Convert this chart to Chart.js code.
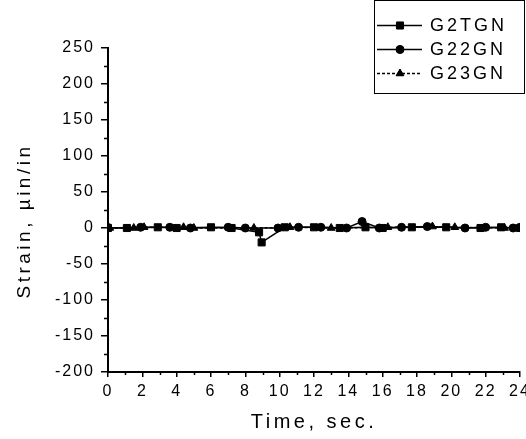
<!DOCTYPE html>
<html lang="en">
  <head>
    <meta charset="utf-8" />
    <title>Strain vs time</title>
    <style>
      html, body { margin: 0; padding: 0; background: #fff; }
      #chart { display: block; }
    </style>
  </head>
  <body>
    <canvas id="chart" width="526" height="439"></canvas>
    <script src="https://cdn.jsdelivr.net/npm/chart.js@4.4.1/dist/chart.umd.min.js"></script>
    <script>
      // gauge readings, strain in micro-in/in against time in seconds
      var seriesNames = ["G2TGN", "G22GN", "G23GN"];

      var timeG2TGN = [0, 1.1, 2.9, 4.0, 6.0, 7.2, 8.8, 8.95, 10.3, 12.0, 13.5, 15.0, 16.0, 17.7, 19.7, 21.7, 22.9, 24];
      var strainG2TGN = [0, 0, 1, 0, 1, 0, -6, -20, 1, 1, 0, 1, 0, 1, 1, 0, 1, 0];

      var timeG22GN = [0, 1.9, 3.6, 4.8, 7.0, 8.0, 9.9, 11.1, 12.4, 13.9, 14.8, 15.8, 17.1, 18.6, 20.8, 22.0, 23.6, 24];
      var strainG22GN = [0, 1, 1, 0, 1, 0, 0, 1, 1, 0, 9, 0, 1, 2, 0, 1, 0, 1];

      var timeG23GN = [0.1, 1.5, 2.1, 4.4, 5.0, 8.5, 10.6, 13.0, 16.3, 18.9, 20.2, 23.1];
      var strainG23GN = [0, 0, 1, 1, 0, 0, 1, 0, 1, 2, 1, 0];

      var yMin = -200, yMax = 250, yStep = 50;
      var xMin = 0, xMax = 24, xStep = 2;

      var FONT = "'Liberation Sans', Arial, Helvetica, sans-serif";

      function toPoints(xs, ys) {
        var pts = [];
        for (var i = 0; i < xs.length; i++) {
          pts.push({ x: xs[i], y: ys[i] });
        }
        return pts;
      }

      function series(label, xs, ys, style, radius, dash) {
        return {
          label: label,
          data: toPoints(xs, ys),
          showLine: true,
          borderColor: "#000",
          backgroundColor: "#000",
          borderWidth: 1.5,
          borderDash: dash,
          pointStyle: style,
          pointRadius: radius,
          pointBorderWidth: 1,
          pointBorderColor: "#000",
          pointBackgroundColor: "#000",
        };
      }

      var dataSource = {
        datasets: [
          series(seriesNames[0], timeG2TGN, strainG2TGN, "rect", 5, []),
          series(seriesNames[1], timeG22GN, strainG22GN, "circle", 4, []),
          series(seriesNames[2], timeG23GN, strainG23GN, "triangle", 4.5, [3, 2]),
        ],
      };

      // letter spacing of the scanned lettering is wide, canvas can do that
      var spacingPlugin = {
        id: "spacing",
        beforeLayout: function (chart) { chart.ctx.letterSpacing = "2px"; },
        beforeDraw: function (chart) { chart.ctx.letterSpacing = "2px"; },
        afterLayout: function (chart) {
          Object.keys(chart.scales).forEach(function (id) {
            var scale = chart.scales[id];
            if (scale._patchedTitle) return;
            var orig = scale.drawTitle;
            scale.drawTitle = function () {
              var ctx = this.ctx;
              ctx.save();
              ctx.letterSpacing = "3.5px";
              if (id === "y") ctx.translate(0, 11);
              orig.call(this);
              ctx.restore();
            };
            scale._patchedTitle = true;
          });
        },
      };

      // minor ticks plus the boxed legend with line and marker samples
      var extrasPlugin = {
        id: "extras",
        afterDraw: function (chart) {
          var ctx = chart.ctx;
          var xs = chart.scales.x, ys = chart.scales.y;
          var area = chart.chartArea;
          ctx.save();
          ctx.strokeStyle = "#000";
          ctx.lineWidth = 1.5;
          ctx.beginPath();
          for (var v = yMin + yStep / 2; v < yMax; v += yStep) {
            var py = Math.round(ys.getPixelForValue(v)) + 0.5;
            ctx.moveTo(area.left - 4, py);
            ctx.lineTo(area.left, py);
          }
          for (var t = xMin + xStep / 2; t < xMax; t += xStep) {
            var px = Math.round(xs.getPixelForValue(t)) + 0.5;
            ctx.moveTo(px, area.bottom);
            ctx.lineTo(px, area.bottom + 3);
          }
          ctx.stroke();

          // legend box
          ctx.lineWidth = 1;
          ctx.strokeRect(374.5, 0.5, 150, 93);
          ctx.font = "18px " + FONT;
          ctx.letterSpacing = "3px";
          ctx.textBaseline = "middle";
          ctx.fillStyle = "#000";
          chart.data.datasets.forEach(function (ds, i) {
            var y = 25 + i * 24;
            ctx.save();
            ctx.lineWidth = 1.5;
            ctx.setLineDash(ds.borderDash || []);
            ctx.beginPath();
            ctx.moveTo(377, y + 0.5);
            ctx.lineTo(422, y + 0.5);
            ctx.stroke();
            ctx.restore();
            Chart.helpers.drawPoint(ctx, {
              pointStyle: ds.pointStyle,
              radius: ds.pointRadius,
              rotation: 0,
              borderWidth: 1,
            }, 400, y + 0.5);
            ctx.fill();
            ctx.fillText(ds.label, 430, y + 1);
          });
          ctx.restore();
        },
      };

      function createChart() {
        var ctx = document.getElementById("chart").getContext("2d");
        Chart.defaults.font.family = FONT;
        Chart.defaults.color = "#000";
        window.strainChart = new Chart(ctx, {
          type: "scatter",
          data: dataSource,
          plugins: [spacingPlugin, extrasPlugin],
          options: {
            responsive: false,
            devicePixelRatio: 1,
            animation: false,
            layout: { padding: { top: 48, right: 5, left: 0, bottom: 0 } },
            plugins: {
              legend: { display: false },
              tooltip: { enabled: false },
            },
            scales: {
              x: {
                type: "linear",
                min: xMin,
                max: xMax,
                ticks: { stepSize: xStep, padding: 5, maxRotation: 0, font: { size: 16 }, color: "#000" },
                grid: { drawOnChartArea: false, drawTicks: true, tickLength: 5, color: "#000", lineWidth: 1.5 },
                border: { display: true, color: "#000", width: 2 },
                title: { display: true, text: "Time, sec.", font: { size: 20 }, color: "#000", padding: { top: 0, bottom: 5 } },
                afterFit: function (scale) {
                  scale.height = 67;
                  scale.paddingLeft = 0;
                  scale.paddingRight = 0;
                },
              },
              y: {
                type: "linear",
                min: yMin,
                max: yMax,
                ticks: { stepSize: yStep, padding: 6, font: { size: 16 }, color: "#000" },
                grid: { drawOnChartArea: false, drawTicks: true, tickLength: 7, color: "#000", lineWidth: 1.5 },
                border: { display: true, color: "#000", width: 2 },
                title: { display: true, text: "Strain, \u00b5in/in", font: { size: 19 }, color: "#000", padding: { top: 13, bottom: 0 } },
                afterFit: function (scale) {
                  scale.width = 108;
                  scale.paddingTop = 0;
                  scale.paddingBottom = 0;
                },
              },
            },
          },
        });
      }

      createChart();
    </script>
  </body>
</html>
